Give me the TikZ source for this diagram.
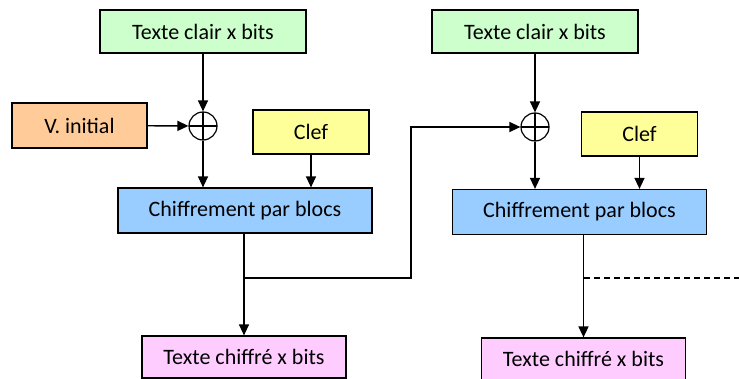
\documentclass[tikz,border=0pt]{standalone}
\usepackage{fontspec}
\setmainfont{Carlito}
\usepackage{tikz}
\usetikzlibrary{
	arrows.meta,
	positioning,
	calc
}
\usepackage{xcolor}
\definecolor{vertclair}{HTML}{CCFFCC}
\definecolor{orangeclair}{HTML}{FFCC99}
\definecolor{jauneclair}{HTML}{FFFF99}
\definecolor{bleuclair}{HTML}{99CCFF}
\definecolor{roseclair}{HTML}{FFCCFF}

\begin{document}
\begin{tikzpicture}[x=0.5pt,y=-0.5pt,>={Triangle[length=5.5pt,width=5pt]},line width=0.7pt,
	bloc/.style={draw,line width=0.6pt,inner sep=0pt,font=\fontsize{11}{13}\selectfont},
	clair/.style={bloc,fill=vertclair,minimum width=103pt,minimum height=21.5pt},
	vinit/.style={bloc,fill=orangeclair,minimum width=67.5pt,minimum height=22.5pt},
	clef/.style={bloc,fill=jauneclair,minimum width=58pt,minimum height=22pt},
	chiff/.style={bloc,fill=bleuclair,minimum width=127pt,minimum height=22.5pt},
	sortie/.style={bloc,fill=roseclair,minimum width=102pt,minimum height=21pt},
	xor/.style={circle,draw,line width=0.6pt,minimum size=14pt,inner sep=0pt,
		path picture={\draw[line width=0.6pt]
			(path picture bounding box.west) -- (path picture bounding box.east)
			(path picture bounding box.north) -- (path picture bounding box.south);}}]
		
		\useasboundingbox (0,0) rectangle (739,379);
		
		% premier bloc
		\node[clair] (clair1) at (203,31.5) {Texte clair x bits};
		\node[vinit] (iv) at (79.5,125.5) {V. initial};
		\node[xor] (xor1) at (203,126) {};
		\node[clef] (clef1) at (311,132) {Clef};
		\node[chiff] (chiff1) at (245,210.5) {Chiffrement par blocs};
		\node[sortie] (sortie1) at (244,357) {Texte chiffré x bits};
		
		\draw[->] (clair1) -- (xor1);
		\draw[->] (iv) -- (xor1);
		\draw[->] (xor1) -- (xor1 |- chiff1.north);
		\draw[->] (clef1) -- (clef1 |- chiff1.north);
		\draw[->] (chiff1.south -| sortie1) -- (sortie1);
		
		% second bloc
		\node[clair] (clair2) at (535,31.5) {Texte clair x bits};
		\node[xor] (xor2) at (535,127) {};
		\node[clef] (clef2) at (639.5,134) {Clef};
		\node[chiff] (chiff2) at (579.5,212) {Chiffrement par blocs};
		\node[sortie] (sortie2) at (583.5,359) {Texte chiffré x bits};
		
		\draw[->] (clair2) -- (xor2);
		\draw[->] (xor2) -- (xor2 |- chiff2.north);
		\draw[->] (clef2) -- (clef2 |- chiff2.north);
		\draw[->] (chiff2.south -| sortie2) -- (sortie2);
		
		% chainage
		\coordinate (branche1) at (244,278);
		\coordinate (coude1) at (411,278);
		\draw[->] (branche1) -- (coude1) |- (xor2);
		
		\coordinate (branche2) at (584,278);
		\coordinate (suite) at (739,278);
		\draw[dash pattern=on 3pt off 2pt] (branche2) -- (suite);
		
	\end{tikzpicture}
\end{document}
